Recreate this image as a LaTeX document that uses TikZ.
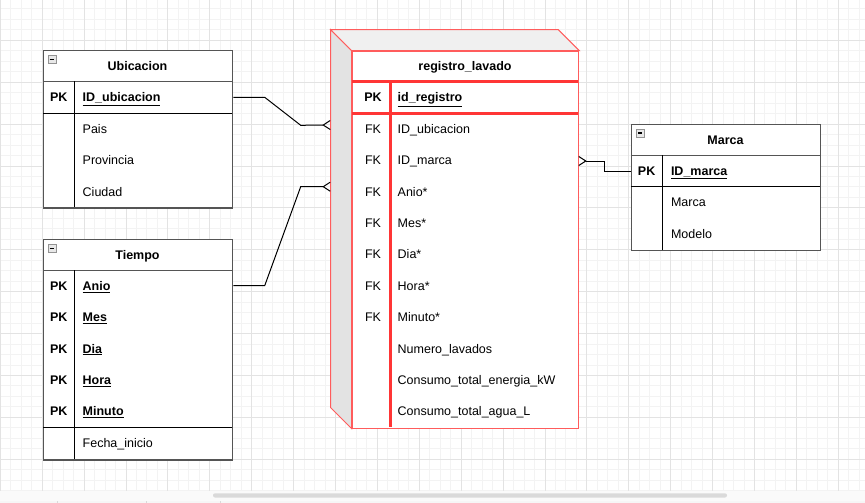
\documentclass[tikz,border=0pt]{standalone}
\usepackage{fontspec}
\setmainfont{Liberation Sans}
\usetikzlibrary{arrows.meta,positioning,calc}
\definecolor{gridmin}{HTML}{F3F3F3}
\definecolor{gridmaj}{HTML}{E3E3E3}
\definecolor{tblline}{HTML}{555555}
\definecolor{regred}{HTML}{FF5C5C}
\definecolor{regthick}{HTML}{FF3535}
\definecolor{sidegray}{HTML}{E3E3E3}
\definecolor{topgray}{HTML}{F0F0F0}
\definecolor{scrollc}{HTML}{DADADA}
\newcommand\erfont{\fontsize{12.5}{15}\selectfont}
\tikzset{
  minorln/.style = { draw=gridmin, line width=1pt },
  majorln/.style = { draw=gridmaj, line width=1pt },
  tbl/.style    = { draw=tblline, line width=1.4pt, fill=white, anchor=north west,
    inner sep=0pt, minimum width=189pt },
  regfront/.style = { draw=regred, line width=1pt, fill=white, anchor=north west,
    inner sep=0pt, minimum width=226.6pt, minimum height=377pt },
  sepln/.style  = { draw=black, line width=1pt },
  thickln/.style = { draw=regthick, line width=3pt },
  hdr/.style    = { font=\erfont\bfseries, inner sep=0pt, text height=9pt, text depth=0pt },
  keyc/.style   = { font=\erfont, inner sep=0pt, text height=9pt, text depth=0pt },
  pkkey/.style  = { keyc, font=\erfont\bfseries },
  fld/.style    = { font=\erfont, inner sep=0pt, text width=170pt, align=left,
    text height=9pt, text depth=0pt },
  pkfld/.style  = { fld, font=\erfont\bfseries },
  minbox/.style = { draw=gray!85, fill=gray!18, line width=0.8pt, minimum size=8pt,
    inner sep=0pt, anchor=north west,
    path picture={\draw[black, line width=1.2pt] ([xshift=1.8pt]path picture bounding box.west)
      -- ([xshift=-1.8pt]path picture bounding box.east);} },
  rel/.style    = { draw=black, line width=1pt },
  crow/.style   = { -{Straight Barb[reversed, length=7pt, width=9pt, line width=1pt]} }
}

\begin{document}
\begin{tikzpicture}[x=1pt, y=-1pt, node distance=31.4pt, on grid]
  \useasboundingbox (0,0) rectangle (865,503);
  \fill[white] (0,0) rectangle (865,503);
  % grid
  \begin{scope}
    \clip (0,0) rectangle (865,490.7);
    \foreach \i in {0,...,83} \draw[minorln] ({0.3+10.475*\i},0) -- ++(0,490.7);
    \foreach \j in {0,...,47} \draw[minorln] (0,{-1.6+10.475*\j}) -- ++(865,0);
    \foreach \i in {0,...,21} \draw[majorln] ({0.3+41.9*\i},0) -- ++(0,490.7);
    \foreach \j in {0,...,12} \draw[majorln] (0,{-1.6+41.9*\j}) -- ++(865,0);
  \end{scope}
  % scroll bar
  \fill[gray!4] (0,490.7) rectangle (865,500.5);
  \fill[scrollc, rounded corners=2pt] (213,493.3) rectangle (727,497.5);
  \draw[gray!35] (0,500.7) -- (865,500.7);
  \fill[gray!7] (0,501.2) rectangle (865,503);
  \draw[gray!30] (57,501.2) -- (57,503) (146,501.2) -- (146,503) (220.6,501.2) -- (220.6,503);

  % Ubicacion
  \node[tbl, minimum height=157.3pt] (ubic) at (43,50) {};
  \draw[sepln, draw=tblline] (43,81.5) -- (232,81.5);
  \draw[sepln] (43,113) -- (232,113);
  \draw[sepln] (74.3,81.5) -- (74.3,207.3);
  \node[minbox] (ubicmin) at (47.5,55) {};
  \node[hdr] (ubict) at (137.5,66) {Ubicacion};
  \node[pkkey] (uk1) at (58.7,97.3) {PK};
  \node[pkfld] (uf1) at (167.7,97.3) {\underline{ID\_ubicacion}};
  \node[fld, below of=uf1] (uf2) {Pais};
  \node[fld, below of=uf2] (uf3) {Provincia};
  \node[fld, below of=uf3] (uf4) {Ciudad};

  % Tiempo
  \node[tbl, minimum height=220.3pt] (tiem) at (43,239) {};
  \draw[sepln, draw=tblline] (43,270.3) -- (232,270.3);
  \draw[sepln] (43,427.7) -- (232,427.7);
  \draw[sepln] (74.3,270.3) -- (74.3,459.3);
  \node[minbox] (tiemmin) at (47.5,244) {};
  \node[hdr] (tiemt) at (137.5,255) {Tiempo};
  \node[pkkey] (tk1) at (58.7,285.7) {PK};
  \node[pkkey, below of=tk1] (tk2) {PK};
  \node[pkkey, below of=tk2] (tk3) {PK};
  \node[pkkey, below of=tk3] (tk4) {PK};
  \node[pkkey, below of=tk4] (tk5) {PK};
  \node[pkfld] (tf1) at (167.7,285.7) {\underline{Anio}};
  \node[pkfld, below of=tf1] (tf2) {\underline{Mes}};
  \node[pkfld, below of=tf2] (tf3) {\underline{Dia}};
  \node[pkfld, below of=tf3] (tf4) {\underline{Hora}};
  \node[pkfld, below of=tf4] (tf5) {\underline{Minuto}};
  \node[fld, below of=tf5] (tf6) {Fecha\_inicio};

  % Marca
  \node[tbl, minimum height=125.6pt] (marca) at (631,124) {};
  \draw[sepln, draw=tblline] (631,155.4) -- (820,155.4);
  \draw[sepln] (631,186.8) -- (820,186.8);
  \draw[sepln] (662.3,155.4) -- (662.3,249.6);
  \node[minbox] (marcamin) at (635.8,128.5) {};
  \node[hdr] (marcat) at (725.5,140) {Marca};
  \node[pkkey] (mk1) at (646.6,171) {PK};
  \node[pkfld] (mf1) at (756,171) {\underline{ID\_marca}};
  \node[fld, below of=mf1] (mf2) {Marca};
  \node[fld, below of=mf2] (mf3) {Modelo};

  % registro_lavado (3d)
  \coordinate (regback) at (330.7,29.7);
  \node[regfront] (reg) at (351.7,50.7) {};
  \filldraw[fill=sidegray, draw=regred, line width=1pt]
    (regback) -- (reg.north west) -- (reg.south west) -- ($(reg.south west)+(-21,-21)$) -- cycle;
  \filldraw[fill=topgray, draw=regred, line width=1pt]
    (regback) -- ($(reg.north east)+(-21,-21)$) -- (reg.north east) -- (reg.north west) -- cycle;
  \draw[thickln] (351.7,81.3) -- (578.3,81.3);
  \draw[thickln] (351.7,113) -- (578.3,113);
  \draw[thickln] (390,81.3) -- (390,427.2);
  \node[hdr] (regt) at (465,66) {registro\_lavado};
  \node[pkkey] (rk1) at (373,97.3) {PK};
  \node[keyc, below of=rk1] (rk2) {FK};
  \node[keyc, below of=rk2] (rk3) {FK};
  \node[keyc, below of=rk3] (rk4) {FK};
  \node[keyc, below of=rk4] (rk5) {FK};
  \node[keyc, below of=rk5] (rk6) {FK};
  \node[keyc, below of=rk6] (rk7) {FK};
  \node[keyc, below of=rk7] (rk8) {FK};
  \node[pkfld] (rf1) at (482.7,97.3) {\underline{id\_registro}};
  \node[fld, below of=rf1] (rf2) {ID\_ubicacion};
  \node[fld, below of=rf2] (rf3) {ID\_marca};
  \node[fld, below of=rf3] (rf4) {Anio*};
  \node[fld, below of=rf4] (rf5) {Mes*};
  \node[fld, below of=rf5] (rf6) {Dia*};
  \node[fld, below of=rf6] (rf7) {Hora*};
  \node[fld, below of=rf7] (rf8) {Minuto*};
  \node[fld, below of=rf8] (rf9) {Numero\_lavados};
  \node[fld, below of=rf9] (rf10) {Consumo\_total\_energia\_kW};
  \node[fld, below of=rf10] (rf11) {Consumo\_total\_agua\_L};

  % relations
  \coordinate (inU) at (330.7,125);
  \coordinate (inT) at (330.7,186.7);
  \coordinate (inM) at (578.3,161);
  \draw[rel, crow] (ubic.east |- uf1) -- ++(31.3,0) -- ++(36,28) -- (inU);
  \draw[rel, crow] (tiem.east |- tf1) -- ++(31.3,0) -- ++(36,-99) -- (inT);
  \draw[rel, crow] (marca.west |- mf1) -- ++(-26.7,0) -- ++(0,-10) -- (inM);
\end{tikzpicture}
\end{document}
